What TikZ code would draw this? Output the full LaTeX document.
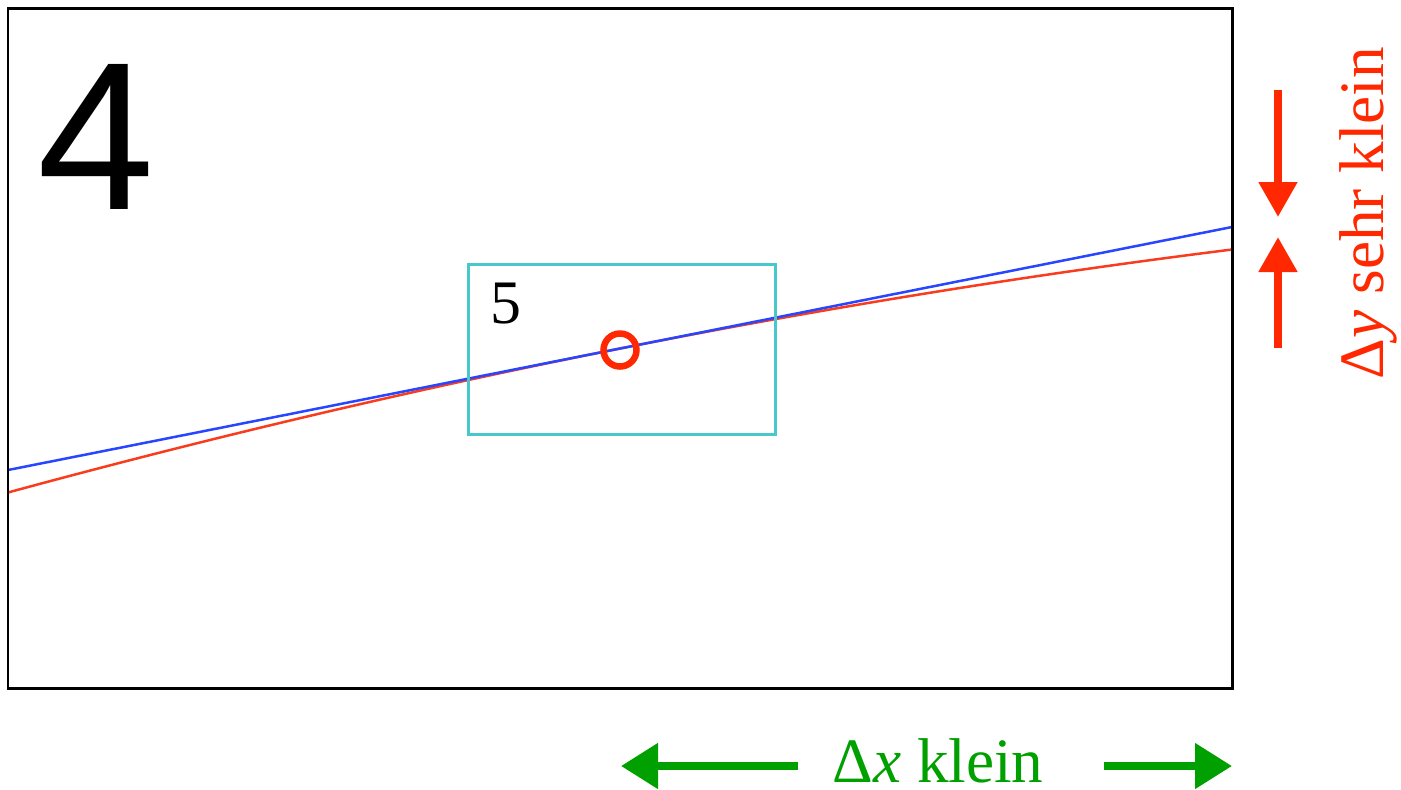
\documentclass[tikz,border=0pt]{standalone}
\usepackage{fontspec}
\setmainfont{Liberation Serif}
\newfontfamily\digitfont{Liberation Sans}
\usepackage{xcolor}
\usepackage{tikz}
\usetikzlibrary{arrows.meta}
\definecolor{curveblue}{RGB}{40,70,255}
\definecolor{curvered}{RGB}{250,60,30}
\definecolor{zoomcyan}{RGB}{72,200,204}
\definecolor{deltared}{RGB}{255,40,0}
\definecolor{deltagreen}{RGB}{0,160,0}

\begin{document}
\begin{tikzpicture}[x=0.1mm, y=-0.1mm,
    dyarrow/.style={line width=0.8mm, deltared, -{Triangle[length=3.5mm, width=3.7mm]}},
    dxarrow/.style={line width=0.8mm, deltagreen, -{Triangle[length=3.7mm, width=4.4mm]}},
    biglabel/.style={font=\fontsize{18pt}{20pt}\selectfont, inner sep=0pt, anchor=base}]
    \useasboundingbox (0,0) rectangle (1401,789);
    % curves
    \draw[curvered, line width=0.25mm] plot[domain=8:1232, samples=60, smooth]
        (\x, {470-0.1985*(\x-8)+0.6*((\x-620)/100)^2});
    \draw[curveblue, line width=0.25mm] (8,470) -- (1232,227);
    % frame
    \draw[line width=0.3mm] (8,8) rectangle (1232,688);
    \node[font=\digitfont\fontsize{60pt}{64pt}\selectfont, inner sep=0pt, anchor=base] (stepfour) at (96,209) {4};
    % zoom window
    \draw[zoomcyan, line width=0.3mm] (468,264) rectangle (775,434);
    \node[font=\fontsize{17.6pt}{19pt}\selectfont, inner sep=0pt, anchor=base] (stepfive) at (506,323) {5};
    \node[circle, draw=deltared, line width=0.65mm, minimum size=3.3mm, inner sep=0pt] (touch) at (620,350) {};
    % delta y
    \coordinate (dyTopStart) at (1278,90);
    \coordinate (dyTopTip) at (1278,217);
    \coordinate (dyLowStart) at (1278,348);
    \coordinate (dyLowTip) at (1278,237);
    \draw[dyarrow] (dyTopStart) -- (dyTopTip);
    \draw[dyarrow] (dyLowStart) -- (dyLowTip);
    \node[biglabel, deltared, rotate=90] (dylabel) at (1383,213) {Δ\textit{y} sehr klein};
    % delta x
    \node[biglabel, deltagreen] (dxlabel) at (938,782) {Δ\textit{x} klein};
    \coordinate (dxLeftStart) at (798,766);
    \coordinate (dxLeftTip) at (621,766);
    \coordinate (dxRightStart) at (1104,766);
    \coordinate (dxRightTip) at (1232,766);
    \draw[dxarrow] (dxLeftStart) -- (dxLeftTip);
    \draw[dxarrow] (dxRightStart) -- (dxRightTip);
\end{tikzpicture}
\end{document}
